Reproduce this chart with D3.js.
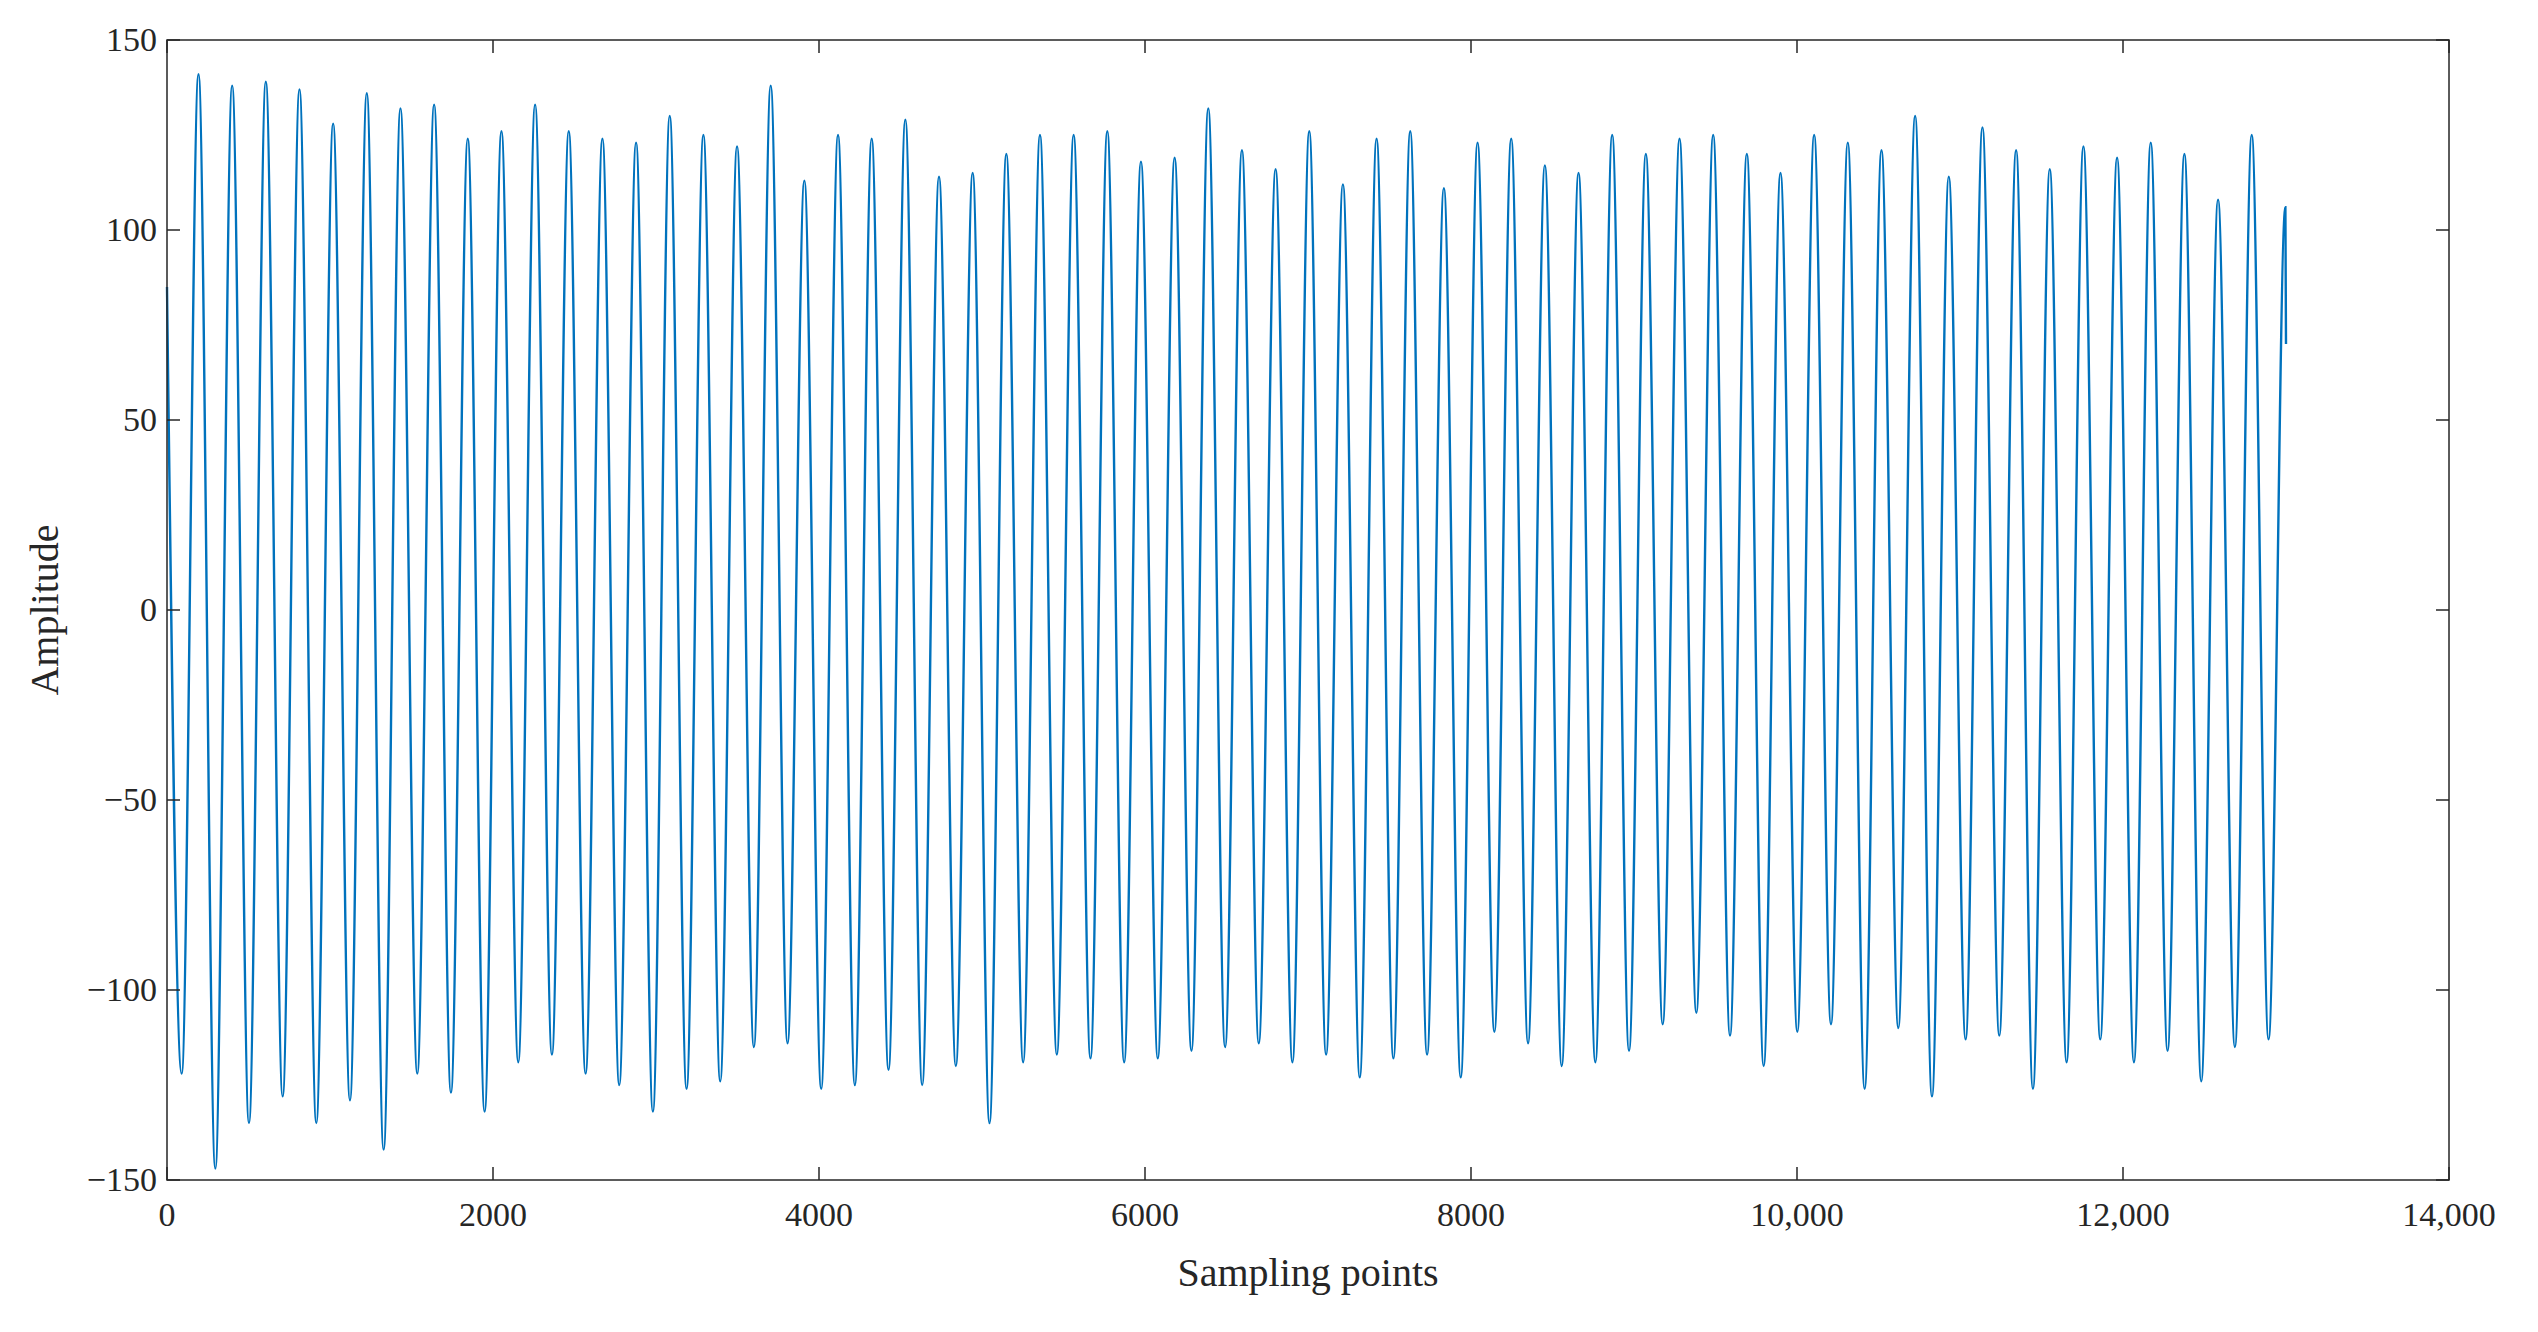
<!DOCTYPE html>
<html><head><meta charset="utf-8">
<script src="https://cdn.jsdelivr.net/npm/d3@7"></script>
<style>body{margin:0;background:#fff}svg{font-family:"Liberation Serif","Times New Roman",serif}</style>
</head><body>
<svg id="c" width="2538" height="1332"></svg>
<script>
const peaks=[141,138,139,137,128,136,132,133,124,126,133,126,124,123,130,125,122,138,113,125,124,129,114,115,120,125,125,126,118,119,132,121,116,126,112,124,126,111,123,124,117,115,125,120,124,125,120,115,125,123,121,130,114,127,121,116,122,119,123,120,108,125];
const troughs=[-122,-147,-135,-128,-135,-129,-142,-122,-127,-132,-119,-117,-122,-125,-132,-126,-124,-115,-114,-126,-125,-121,-125,-120,-135,-119,-117,-118,-119,-118,-116,-115,-114,-119,-117,-123,-118,-117,-123,-111,-114,-120,-119,-116,-109,-106,-112,-120,-111,-109,-126,-110,-128,-113,-112,-126,-119,-113,-119,-116,-124,-115,-113];
const startVal=85, lastPeak=106, endVal=70;
const xTicks=[0,2000,4000,6000,8000,10000,12000,14000];
const yTicks=[-150,-100,-50,0,50,100,150];
const period=206.5, firstTrough=90;

const pts=[[0,startVal]];
troughs.forEach((t,i)=>{
  pts.push([firstTrough+i*period,t]);
  const p=i<peaks.length?peaks[i]:lastPeak;
  pts.push([firstTrough+i*period+period/2,p]);
});
pts.push([13000,endVal]);

const svg=d3.select("#c");
const L=167,R=2449,T=40,B=1180;
const x=d3.scaleLinear().domain([0,14000]).range([L,R]);
const y=d3.scaleLinear().domain([-150,150]).range([B,T]);
const fmt=v=>v>=10000?d3.format(",")(v):String(v);
const tl=13;
svg.append("path").datum(pts).attr("fill","none").attr("stroke","#0072BD").attr("stroke-width",2.4)
  .attr("d",d3.line().x(d=>x(d[0])).y(d=>y(d[1])).curve(d3.curveMonotoneX));
svg.append("rect").attr("x",L).attr("y",T).attr("width",R-L).attr("height",B-T).attr("fill","none").attr("stroke","#262626").attr("stroke-width",1.5);
const g=svg.append("g").attr("stroke","#262626").attr("stroke-width",1.5);
xTicks.forEach(v=>{g.append("line").attr("x1",x(v)).attr("x2",x(v)).attr("y1",B).attr("y2",B-tl);
  g.append("line").attr("x1",x(v)).attr("x2",x(v)).attr("y1",T).attr("y2",T+tl);
  svg.append("text").attr("x",x(v)).attr("y",B+46).attr("text-anchor","middle").attr("font-size",34).attr("fill","#262626").text(fmt(v));});
yTicks.forEach(v=>{g.append("line").attr("x1",L).attr("x2",L+tl).attr("y1",y(v)).attr("y2",y(v));
  g.append("line").attr("x1",R).attr("x2",R-tl).attr("y1",y(v)).attr("y2",y(v));
  svg.append("text").attr("x",L-10).attr("y",y(v)+11).attr("text-anchor","end").attr("font-size",34).attr("fill","#262626").text(v<0?"\u2212"+(-v):v);});
svg.append("text").attr("x",(L+R)/2).attr("y",1286).attr("text-anchor","middle").attr("font-size",40).attr("fill","#262626").text("Sampling points");
svg.append("text").attr("transform",`translate(58,${(T+B)/2}) rotate(-90)`).attr("text-anchor","middle").attr("font-size",40).attr("fill","#262626").text("Amplitude");
</script></body></html>
